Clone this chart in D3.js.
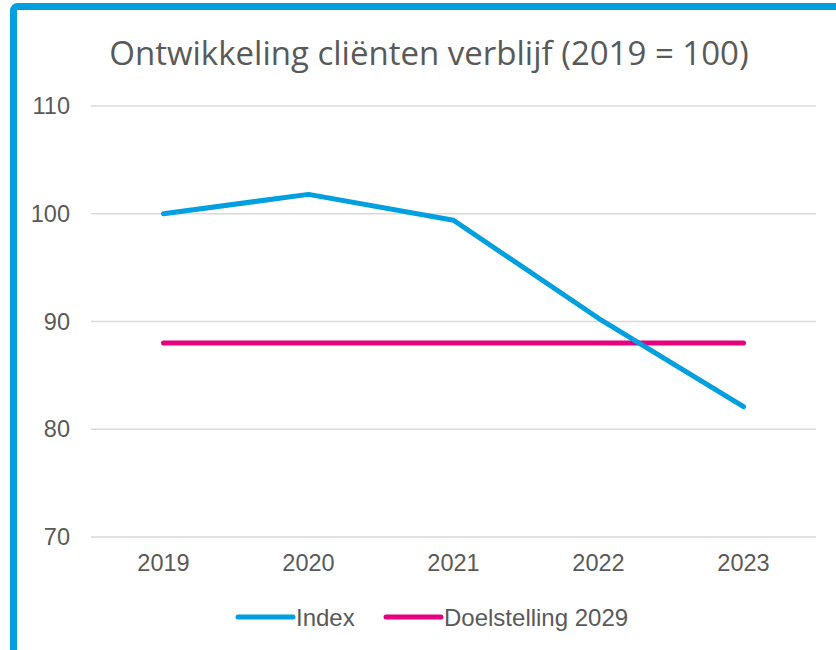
<!DOCTYPE html>
<meta charset="utf-8">
<script src="https://d3js.org/d3.v7.min.js"></script>
<style>
  body { margin: 0; background: #fff; }
  text { fill: #595959; }
</style>
<div id="chart"></div>
<script>
  // data
  var years = ["2019", "2020", "2021", "2022", "2023"];
  var indexValues = [100, 101.8, 99.4, 90.3, 82.1];
  var targetValues = [88, 88, 88, 88, 88];
  var yTicks = [70, 80, 90, 100, 110];
  var seriesNames = ["Index", "Doelstelling 2029"];
  var seriesColors = ["#009FE0", "#E5007D"];

  var W = 836, H = 650;
  var margin = {top: 106, right: 20, bottom: 113, left: 91},
      width = 816 - margin.left,
      height = 537 - margin.top;

  var svg = d3.select("#chart").append("svg")
      .attr("width", W)
      .attr("height", H);

  // blue frame (only top and left visible)
  svg.append("rect")
      .attr("x", 13.5).attr("y", 6.5)
      .attr("width", 900).attr("height", 900)
      .attr("rx", 4)
      .attr("fill", "none")
      .attr("stroke", "#009FE0")
      .attr("stroke-width", 7);

  svg.append("text")
      .attr("x", 429).attr("y", 65)
      .attr("text-anchor", "middle")
      .style("font-family", "'Open Sans', sans-serif")
      .style("font-size", "33px")
      .text("Ontwikkeling cliënten verblijf (2019 = 100)");

  var g = svg.append("g")
      .attr("transform", "translate(" + margin.left + "," + margin.top + ")");

  var x = d3.scaleBand().domain(years).range([0, width]);
  var y = d3.scaleLinear().domain([70, 110]).range([height, 0]);

  // gridlines
  g.selectAll(".grid")
      .data(yTicks)
      .enter().append("line")
      .attr("x1", 0).attr("x2", width)
      .attr("y1", function(d) { return y(d); })
      .attr("y2", function(d) { return y(d); })
      .attr("stroke", "#d9d9d9")
      .attr("stroke-width", 1.5);

  // y axis labels
  var yAxis = g.append("g")
      .call(d3.axisLeft(y).tickValues(yTicks).tickSize(0).tickPadding(21));
  yAxis.select(".domain").remove();
  yAxis.selectAll("text")
      .style("font-family", "'Liberation Sans', Arial, sans-serif")
      .style("font-size", "23.5px")
      .attr("fill", "#595959");

  // x axis labels
  var xAxis = g.append("g")
      .attr("transform", "translate(0," + height + ")")
      .call(d3.axisBottom(x).tickSize(0).tickPadding(17));
  xAxis.select(".domain").remove();
  xAxis.selectAll("text")
      .style("font-family", "'Liberation Sans', Arial, sans-serif")
      .style("font-size", "23.5px")
      .attr("fill", "#595959");

  var line = d3.line()
      .x(function(d, i) { return x(years[i]) + x.bandwidth() / 2; })
      .y(function(d) { return y(d); });

  g.append("path")
      .datum(targetValues)
      .attr("d", line)
      .attr("fill", "none")
      .attr("stroke", seriesColors[1])
      .attr("stroke-width", 5)
      .attr("stroke-linecap", "round");

  g.append("path")
      .datum(indexValues)
      .attr("d", line)
      .attr("fill", "none")
      .attr("stroke", seriesColors[0])
      .attr("stroke-width", 5)
      .attr("stroke-linecap", "round")
      .attr("stroke-linejoin", "round");

  // legend
  var legendX = [238, 386];
  var legend = svg.selectAll(".legend")
      .data(seriesNames)
      .enter().append("g")
      .attr("transform", function(d, i) { return "translate(" + legendX[i] + ",617)"; });
  legend.append("line")
      .attr("x1", 0).attr("x2", 55)
      .attr("stroke", function(d, i) { return seriesColors[i]; })
      .attr("stroke-width", 5)
      .attr("stroke-linecap", "round");
  legend.append("text")
      .attr("x", 58).attr("y", 8.5)
      .style("font-family", "'Liberation Sans', Arial, sans-serif")
      .style("font-size", "24px")
      .text(function(d) { return d; });
</script>
